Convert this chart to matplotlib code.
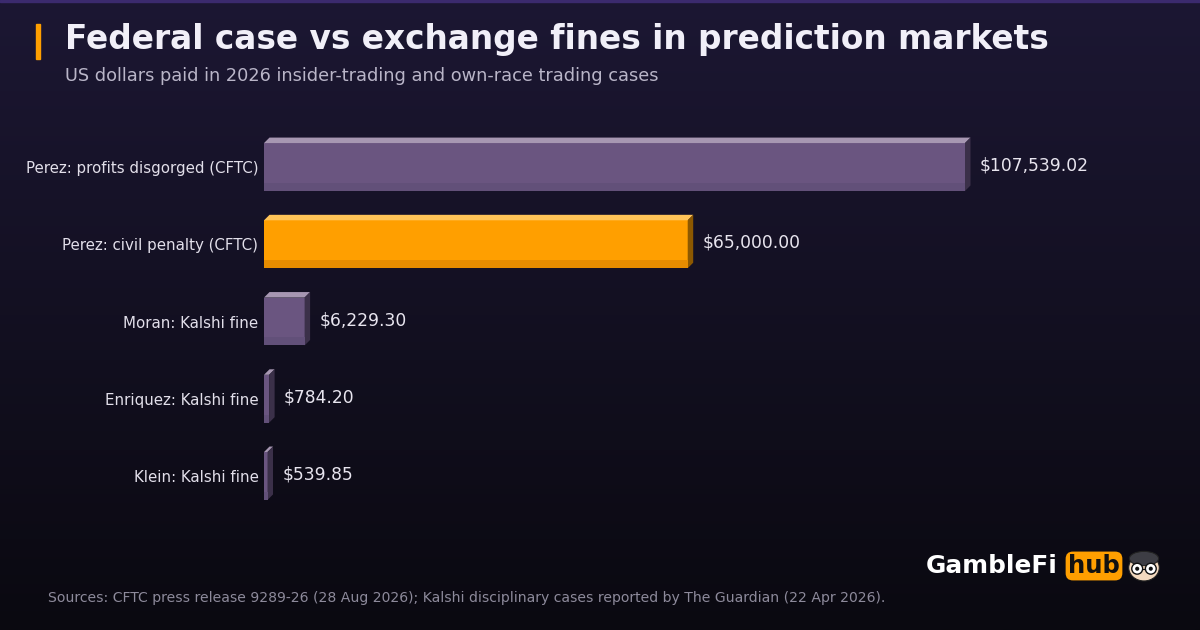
import numpy as np
import matplotlib
matplotlib.use("Agg")
import matplotlib.pyplot as plt
from matplotlib.patches import Polygon, Rectangle, FancyBboxPatch, Circle, Ellipse

plt.rcParams["font.family"] = ["DejaVu Sans"]

categories = ["Perez: profits disgorged (CFTC)", "Perez: civil penalty (CFTC)",
              "Moran: Kalshi fine", "Enriquez: Kalshi fine", "Klein: Kalshi fine"]
values = [107539.02, 65000.00, 6229.30, 784.20, 539.85]
highlight = [False, True, False, False, False]

title = "Federal case vs exchange fines in prediction markets"
subtitle = "US dollars paid in 2026 insider-trading and own-race trading cases"
source = ("Sources: CFTC press release 9289-26 (28 Aug 2026); Kalshi disciplinary cases "
          "reported by The Guardian (22 Apr 2026).")

W, H, DPI = 12, 6.3, 100
fig = plt.figure(figsize=(W, H), dpi=DPI)

# background gradient
bg = fig.add_axes([0, 0, 1, 1], zorder=-10)
top = np.array([0x1c, 0x17, 0x33]) / 255
bot = np.array([0x0a, 0x09, 0x10]) / 255
t = np.linspace(0, 1, 256)[:, None]
grad = top[None, :] * (1 - t) + bot[None, :] * t
bg.imshow(grad[:, None, :], aspect="auto", extent=[0, 1, 0, 1], origin="upper")
bg.add_patch(Rectangle((0, 1 - 2 / 630), 1, 2 / 630, color="#3b2a6e", transform=bg.transAxes))
bg.set_axis_off()
bg.set_xlim(0, 1); bg.set_ylim(0, 1)

# main axes
px_left, px_right = 264, 1150
px_top, px_bot = 128.4, 514.6
ax = fig.add_axes([px_left / 1200, (630 - px_bot) / 630,
                   (px_right - px_left) / 1200, (px_bot - px_top) / 630])
ax.patch.set_alpha(0)
xmax = (px_right - px_left) / 701.0 * values[0]
ax.set_xlim(0, xmax)
n = len(values)
ax.set_ylim(n - 0.5, -0.5)
for s in ax.spines.values():
    s.set_visible(False)
ax.set_xticks([])
ax.set_yticks(range(n))
ax.set_yticklabels(categories, color="#e2dfea", fontsize=10.8)
ax.tick_params(axis="y", length=0, pad=4)

ux = xmax / (px_right - px_left)       # data per px in x
uy = n / (px_bot - px_top)             # data per px in y
depth = 5.5
dx, dy = depth * ux, depth * uy
bh = 0.62

pal = {
    False: dict(front="#6a5580", top="#a797b2", side="#3b3049", strip="#625079"),
    True: dict(front="#ff9f00", top="#ffc458", side="#8c5800", strip="#e68c00"),
}

for i, (v, hl) in enumerate(zip(values, highlight)):
    c = pal[hl]
    y0, y1 = i - bh / 2, i + bh / 2
    ax.add_patch(Rectangle((0, y0), v, bh, facecolor=c["front"], edgecolor="none", zorder=3))
    ax.add_patch(Rectangle((0, y1 - bh * 0.17), v, bh * 0.17, facecolor=c["strip"],
                           edgecolor="none", zorder=3.1))
    ax.add_patch(Polygon([(0, y0), (v, y0), (v + dx, y0 - dy), (dx, y0 - dy)],
                         closed=True, facecolor=c["top"], edgecolor="none", zorder=3))
    ax.add_patch(Polygon([(v, y0), (v + dx, y0 - dy), (v + dx, y1 - dy), (v, y1)],
                         closed=True, facecolor=c["side"], edgecolor="none", zorder=3))
    ax.text(v + 15 * ux, i - 1.5 * uy, f"${v:,.2f}", va="center", ha="left",
            color="#e8e5ef", fontsize=12.3, zorder=4)

# title block
fig.add_artist(Rectangle((36 / 1200, 1 - 59 / 630), 4 / 1200, 35 / 630,
                         color="#ff9f00", transform=fig.transFigure))
fig.text(65 / 1200, 1 - 39 / 630, title, fontsize=23.6, fontweight="bold",
         color="#f1eff8", va="center", ha="left")
fig.text(65 / 1200, 1 - 76 / 630, subtitle, fontsize=12.8, color="#b9b5c8",
         va="center", ha="left")
fig.text(48 / 1200, 1 - 598 / 630, source, fontsize=10.05, color="#8d8a9b",
         va="center", ha="left")

# logo
fig.text(926 / 1200, 1 - 566 / 630, "GambleFi", fontsize=17.8, fontweight="bold",
         color="white", va="center", ha="left")
fig.text(1094 / 1200, 1 - 566 / 630, "hub", fontsize=17.5, fontweight="bold",
         color="#111111", va="center", ha="center",
         bbox=dict(boxstyle="round,pad=0.1,rounding_size=0.3", fc="#ff9f00", ec="none"))
lax = fig.add_axes([1127 / 1200, 1 - 583 / 630, 34 / 1200, 34 / 630])
lax.set_xlim(0, 1); lax.set_ylim(0, 1); lax.set_aspect("equal"); lax.set_axis_off()
lax.add_patch(Ellipse((0.5, 0.45), 0.9, 0.78, fc="#f3d9bf", ec="#222", lw=0.8))
lax.add_patch(Ellipse((0.5, 0.72), 0.86, 0.42, fc="#3d3d44", ec="#222", lw=0.8))
for cx in (0.3, 0.7):
    lax.add_patch(Circle((cx, 0.42), 0.16, fc="white", ec="#111", lw=1.0))
    lax.add_patch(Circle((cx, 0.42), 0.06, fc="#111", ec="none"))
lax.plot([0.46, 0.54], [0.42, 0.42], color="#111", lw=0.8)

fig.savefig("out.png", dpi=DPI)
